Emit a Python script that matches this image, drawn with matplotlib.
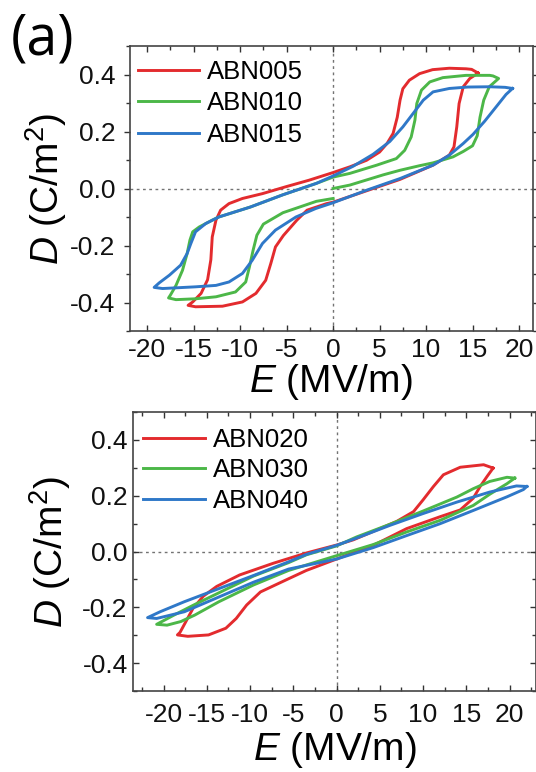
import matplotlib
matplotlib.use("Agg")
import matplotlib.pyplot as plt
from matplotlib.ticker import MultipleLocator, FormatStrFormatter

plt.rcParams['font.family'] = ['Liberation Sans', 'DejaVu Sans']
plt.rcParams['axes.unicode_minus'] = False
plt.rcParams['mathtext.fontset'] = 'custom'
plt.rcParams['mathtext.rm'] = 'Liberation Sans'
plt.rcParams['mathtext.it'] = 'Liberation Sans:italic'

# ---------------- top panel data ----------------
abn005_E = [15.6, 14.9, 14.3, 12.5, 10.7, 9.3, 8.2, 7.5, 7.2, 6.9, 6.45, 5.8, 5.0, 3.6, 1.8, 0, -2.6, -5.1, -7.6, -9.75,
            -11.2, -12.1, -12.6, -13.0, -13.15, -13.5, -14.2, -15.1, -15.6,
            -14.8, -11.9, -9.75, -8.3, -7.25, -6.7, -6.2, -5.35, -3.9, -2.8, -0.7, 0, 3.6, 7.2, 10.75, 12.5, 13.0, 13.3,
            13.55, 14.0, 14.7, 15.6]
abn005_D = [0.405, 0.418, 0.42, 0.422, 0.417, 0.403, 0.38, 0.35, 0.31, 0.25, 0.193, 0.158, 0.128, 0.099, 0.076, 0.056, 0.029, 0.006, -0.018, -0.035,
            -0.053, -0.076, -0.111, -0.17, -0.25, -0.32, -0.368, -0.398, -0.41,
            -0.415, -0.413, -0.398, -0.368, -0.322, -0.263, -0.205, -0.165, -0.111, -0.076, -0.053, -0.048, -0.008, 0.032, 0.082, 0.117, 0.146, 0.216,
            0.298, 0.357, 0.386, 0.405]

abn010_E = [0, 1.8, 3.6, 5.4, 7.2, 9.3, 10.75, 12.9, 14.0, 15.0, 15.5, 15.8, 16.2, 16.8, 17.8,
            17.2, 16.85, 14.3, 11.8, 10.4, 9.5, 9.0, 8.8, 8.4, 7.7, 6.8, 4.7, 1.8, 0, -1.8, -5.4, -8.9, -12.3, -13.0,
            -14.4, -15.1, -15.4, -15.7, -16.2, -16.9, -17.5, -17.7,
            -16.9, -14.8, -12.6, -10.5, -9.4, -9.0, -8.6, -8.2, -7.5, -5.4, -1.8, 0]
abn010_D = [0, 0.012, 0.03, 0.048, 0.064, 0.08, 0.09, 0.111, 0.13, 0.15, 0.185, 0.25, 0.31, 0.357, 0.386,
            0.395, 0.397, 0.397, 0.389, 0.374, 0.345, 0.298, 0.24, 0.181, 0.134, 0.105, 0.082, 0.053, 0.04, 0.018, -0.022, -0.065, -0.1, -0.111,
            -0.135, -0.152, -0.181, -0.228, -0.287, -0.34, -0.374, -0.384,
            -0.39, -0.387, -0.38, -0.363, -0.328, -0.275, -0.216, -0.164, -0.125, -0.085, -0.045, -0.035]

abn015_E = [19.3, 18.5, 16.85, 14.5, 12.5, 10.75, 9.7, 8.6, 7.5, 6.1, 4.3, 2.15, 0, -1.8, -5.4, -8.9, -12.3, -13.7,
            -14.8, -15.3, -15.7, -16.4, -17.6, -18.7, -19.25,
            -18.35, -14.8, -12.6, -11.2, -9.75, -8.7, -7.6, -6.2, -4.0, -1.85, 0, 3.6, 7.2, 10.75, 12.5, 14.0, 15.05,
            16.3, 17.5, 18.6, 19.3]
abn015_D = [0.351, 0.355, 0.357, 0.356, 0.351, 0.339, 0.31, 0.263, 0.216, 0.165, 0.12, 0.078, 0.044, 0.018, -0.022, -0.065, -0.1, -0.123,
            -0.152, -0.193, -0.228, -0.269, -0.304, -0.331, -0.347,
            -0.351, -0.345, -0.34, -0.328, -0.298, -0.252, -0.193, -0.146, -0.1, -0.07, -0.05, -0.006, 0.035, 0.082, 0.117, 0.158, 0.19,
            0.236, 0.285, 0.33, 0.351]

# ---------------- bottom panel data ----------------
abn020_E = [18.1, 17.0, 14.3, 12.35, 11.2, 10.0, 8.9, 6.96, 4.25, 1.95, 0.1, -3.45, -7.3, -11.2, -13.85, -15.4, -16.6, -17.4, -18.1, -18.4,
            -17.2, -14.8, -12.8, -11.6, -10.4, -8.8, -6.4, -3.5, 0, 4.5, 8.1, 12.0, 14.3, 15.8, 16.6, 17.4, 18.1]
abn020_D = [0.299, 0.311, 0.302, 0.275, 0.233, 0.185, 0.143, 0.108, 0.072, 0.042, 0.024, -0.005, -0.042, -0.084, -0.125, -0.16, -0.204, -0.25, -0.29, -0.299,
            -0.304, -0.299, -0.275, -0.24, -0.192, -0.145, -0.11, -0.068, -0.027, 0.026, 0.082, 0.125, 0.149, 0.191, 0.233, 0.269, 0.299]

abn030_E = [20.6, 19.7, 17.7, 15.8, 13.9, 10.0, 6.2, 2.3, 0, -3.5, -5.55, -9.6, -13.6, -16.4, -18.8, -20.8,
            -19.6, -18.0, -16.4, -13.6, -9.6, -5.55, 0, 4.25, 8.1, 12.0, 15.8, 17.7, 19.7, 20.6]
abn030_D = [0.263, 0.266, 0.251, 0.225, 0.195, 0.145, 0.098, 0.052, 0.02, -0.012, -0.04, -0.088, -0.148, -0.19, -0.228, -0.261,
            -0.264, -0.251, -0.228, -0.18, -0.12, -0.068, -0.015, 0.025, 0.07, 0.112, 0.165, 0.205, 0.243, 0.263]

abn040_E = [22.0, 20.8, 17.7, 13.9, 10.0, 6.2, 2.3, 0, -3.45, -5.55, -9.6, -13.6, -17.6, -20.4, -21.85,
            -20.8, -17.6, -13.6, -9.6, -5.55, 0, 4.25, 8.1, 12.0, 15.8, 19.7, 21.6, 22.0]
abn040_D = [0.233, 0.235, 0.213, 0.177, 0.136, 0.094, 0.048, 0.022, -0.01, -0.037, -0.086, -0.133, -0.18, -0.216, -0.237,
            -0.24, -0.216, -0.163, -0.11, -0.063, -0.027, 0.014, 0.057, 0.1, 0.147, 0.196, 0.222, 0.233]

top_labels = ['ABN005', 'ABN010', 'ABN015']
bottom_labels = ['ABN020', 'ABN030', 'ABN040']
colors = ['#e32b2e', '#4cb748', '#2f78c8']

W, H = 536, 772
fig = plt.figure(figsize=(W / 100, H / 100), dpi=100)


def px_axes(l, r, t, b):
    return fig.add_axes([l / W, 1 - b / H, (r - l) / W, (b - t) / H])


ax1 = px_axes(129.5, 533, 46, 331)
ax2 = px_axes(133.3, 535.5, 412, 691)

def style(ax, xlim, ydir, ypad, xpad):
    ax.set_xlim(*xlim)
    ax.set_ylim(-0.5, 0.5)
    ax.axhline(0, color='0.45', lw=1.0, ls=(0, (2, 2.5)), zorder=1)
    ax.axvline(0, color='0.45', lw=1.0, ls=(0, (2, 2.5)), zorder=1)
    ax.xaxis.set_major_locator(MultipleLocator(5))
    ax.xaxis.set_minor_locator(MultipleLocator(2.5))
    ax.yaxis.set_major_locator(MultipleLocator(0.2))
    ax.yaxis.set_minor_locator(MultipleLocator(0.1))
    ax.yaxis.set_major_formatter(FormatStrFormatter('%.1f'))
    ax.xaxis.set_major_formatter(FormatStrFormatter('%d'))
    ax.tick_params(axis='x', which='both', direction='in', top=True, bottom=True,
                   labelsize=19, pad=xpad, colors='#333333', labelcolor='#111111')
    ax.tick_params(axis='y', which='both', direction=ydir, left=True, right=True,
                   labelsize=19, pad=ypad, colors='#333333', labelcolor='#111111')
    ax.tick_params(which='major', length=4, width=1)
    ax.tick_params(which='minor', length=3, width=1)
    for s in ax.spines.values():
        s.set_color('#444444')
        s.set_linewidth(1.2)
    ax.set_ylabel(r'$\it{D}$ (C/m$^{2}$)', fontsize=28)
    ax.set_xlabel(r'$\it{E}$ (MV/m)', fontsize=28)


style(ax1, (-21.9, 21.5), 'out', 6, 5)
style(ax2, (-23.5, 23.0), 'in', 4, 9)
ax1.yaxis.set_label_coords(-0.15, 0.5)
ax2.yaxis.set_label_coords(-0.15, 0.5)
ax1.xaxis.labelpad = 0
ax2.xaxis.labelpad = 2

for E, D, c, lab in zip([abn005_E, abn010_E, abn015_E], [abn005_D, abn010_D, abn015_D], colors, top_labels):
    ax1.plot(E, D, color=c, lw=2.1, label=lab, solid_joinstyle='round', zorder=3)
for E, D, c, lab in zip([abn020_E, abn030_E, abn040_E], [abn020_D, abn030_D, abn040_D], colors, bottom_labels):
    ax2.plot(E, D, color=c, lw=2.1, label=lab, solid_joinstyle='round', zorder=3)

for ax, anchor, sp in [(ax1, (0.02, 0.95), 0.28), (ax2, (0.025, 0.942), 0.24)]:
    ax.legend(loc='upper left', bbox_to_anchor=anchor, frameon=False, fontsize=18.5,
              handlelength=2.4, handletextpad=0.3, labelspacing=sp, borderpad=0, borderaxespad=0)

fig.text(0.08, 0.948, '(a)', fontsize=40, ha='center', va='center', family=['Open Sans', 'DejaVu Sans'])

fig.savefig('out.png', dpi=100)
